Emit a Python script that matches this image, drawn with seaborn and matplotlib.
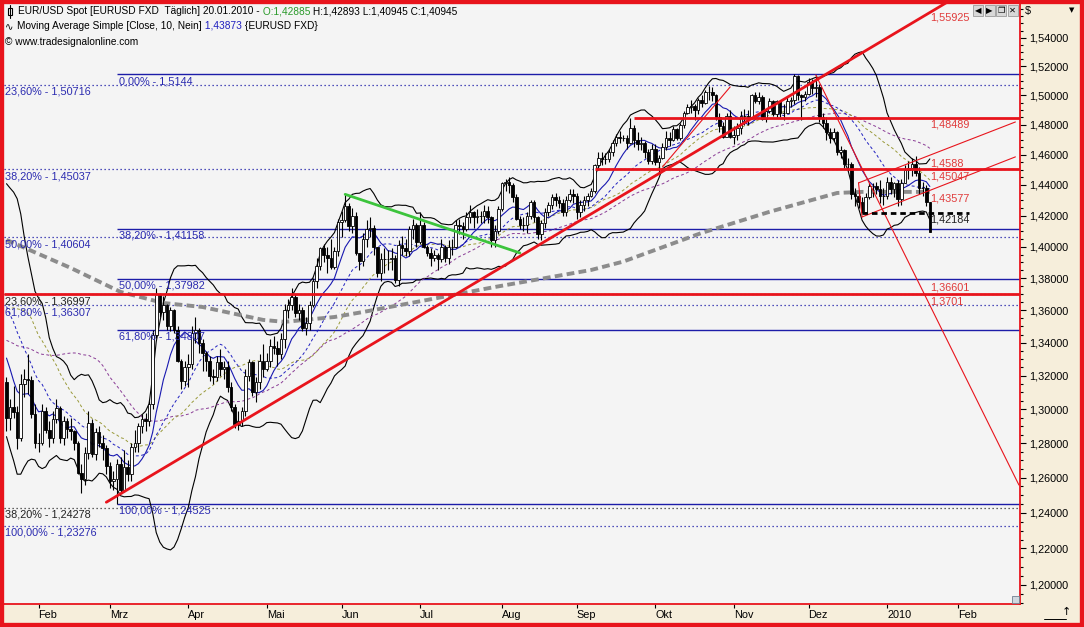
import numpy as np
import pandas as pd
import matplotlib
matplotlib.use("Agg")
import matplotlib.pyplot as plt
import seaborn as sns
from matplotlib.patches import Rectangle
from matplotlib.lines import Line2D
from matplotlib.ticker import FixedLocator, FuncFormatter, NullFormatter

# ---------------- data (EUR/USD daily) ----------------
warmup_close = [1.2960, 1.3050, 1.2990, 1.2950, 1.2690,
                1.2690, 1.2720, 1.2740, 1.2770, 1.2720,
                1.2960, 1.2900, 1.2990, 1.3320, 1.3340,
                1.3640, 1.4000, 1.4390, 1.4370, 1.3930,
                1.4015, 1.3935, 1.4040, 1.4140,
                1.4260, 1.4080, 1.3970, 1.3920,
                1.3595, 1.3440, 1.3670, 1.3710, 1.3440,
                1.3350, 1.3150, 1.3150, 1.3200, 1.3290, 1.3160]
first_open = 1.3160

close_jan09 = [1.2945, 1.3010, 1.2985, 1.2830, 1.3150, 1.3180, 1.3175, 1.2970, 1.2800]
high_jan09 = [1.3190, 1.3060, 1.3140, 1.3020, 1.3210, 1.3240, 1.3330, 1.3200, 1.3030]
low_jan09 = [1.2870, 1.2880, 1.2950, 1.2765, 1.2810, 1.3070, 1.3090, 1.2945, 1.2770]

close_feb09 = [1.2800, 1.2990, 1.2880, 1.2830, 1.2940, 1.3005, 1.2830, 1.2930, 1.2885, 1.2870,
               1.2800, 1.2630, 1.2590, 1.2740, 1.2920, 1.2735, 1.2865, 1.2800, 1.2770, 1.2670]
high_feb09 = [1.2860, 1.3030, 1.3010, 1.2930, 1.2990, 1.3060, 1.3020, 1.2960, 1.2950, 1.2950,
              1.2880, 1.2810, 1.2680, 1.2780, 1.2990, 1.2940, 1.2890, 1.2900, 1.2850, 1.2790]
low_feb09 = [1.2750, 1.2790, 1.2860, 1.2780, 1.2800, 1.2920, 1.2800, 1.2790, 1.2830, 1.2820,
             1.2760, 1.2620, 1.2510, 1.2560, 1.2710, 1.2720, 1.2700, 1.2780, 1.2700, 1.2620]

close_mar09 = [1.2580, 1.2590, 1.2680, 1.2530, 1.2660, 1.2620, 1.2780, 1.2800, 1.2900, 1.2940,
               1.2930, 1.3030, 1.3450, 1.3700, 1.3590, 1.3630, 1.3500, 1.3600, 1.3480, 1.3290,
               1.3170, 1.3250]
high_mar09 = [1.2690, 1.2640, 1.2710, 1.2720, 1.2760, 1.2700, 1.2800, 1.2880, 1.2920, 1.2970,
              1.2980, 1.3050, 1.3480, 1.3740, 1.3710, 1.3690, 1.3640, 1.3620, 1.3610, 1.3500,
              1.3300, 1.3290]
low_mar09 = [1.2540, 1.2530, 1.24525, 1.2510, 1.2520, 1.2580, 1.2580, 1.2750, 1.2750, 1.2860,
             1.2870, 1.2900, 1.3000, 1.3430, 1.3560, 1.3540, 1.3480, 1.3470, 1.3460, 1.3280,
             1.3120, 1.3140]

close_apr09 = [1.3270, 1.3460, 1.3480, 1.3400, 1.3340, 1.3290, 1.3200, 1.3190, 1.3280, 1.3240,
               1.3250, 1.3130, 1.3010, 1.2910, 1.2930, 1.2990, 1.3200, 1.3280, 1.3100, 1.3160,
               1.3290, 1.3240]
high_apr09 = [1.3330, 1.3500, 1.3560, 1.3490, 1.3420, 1.3350, 1.3320, 1.3240, 1.3320, 1.3360,
              1.3290, 1.3290, 1.3160, 1.3030, 1.2990, 1.3010, 1.3240, 1.3300, 1.3290, 1.3190,
              1.3330, 1.3390]
low_apr09 = [1.3130, 1.3240, 1.3400, 1.3340, 1.3230, 1.3230, 1.3170, 1.3150, 1.3170, 1.3200,
             1.3180, 1.3100, 1.2990, 1.2890, 1.2880, 1.2900, 1.2960, 1.3170, 1.3080, 1.3040,
             1.3120, 1.3190]

close_may09 = [1.3290, 1.3380, 1.3370, 1.3330, 1.3420, 1.3600, 1.3630, 1.3680, 1.3580, 1.3600,
               1.3490, 1.3520, 1.3630, 1.3780, 1.3880, 1.3990, 1.3950, 1.3930, 1.3870, 1.3970,
               1.4160]
high_may09 = [1.3340, 1.3420, 1.3440, 1.3410, 1.3460, 1.3640, 1.3670, 1.3740, 1.3700, 1.3640,
              1.3620, 1.3560, 1.3660, 1.3800, 1.3930, 1.4000, 1.4020, 1.4000, 1.4050, 1.4000,
              1.4180]
low_may09 = [1.3230, 1.3250, 1.3330, 1.3260, 1.3300, 1.3370, 1.3550, 1.3600, 1.3560, 1.3540,
             1.3470, 1.3450, 1.3480, 1.3620, 1.3740, 1.3850, 1.3900, 1.3830, 1.3860, 1.3860,
             1.3940]

close_jun09 = [1.4170, 1.4260, 1.4130, 1.4200, 1.3960, 1.3910, 1.4050, 1.4110, 1.4120, 1.4000,
               1.3830, 1.3920, 1.3920, 1.3920, 1.3930, 1.3790, 1.4010, 1.3990, 1.3970, 1.4110,
               1.4140, 1.4030]
high_jun09 = [1.4230, 1.4338, 1.4280, 1.4250, 1.4220, 1.3960, 1.4090, 1.4170, 1.4190, 1.4140,
              1.3990, 1.3960, 1.3990, 1.3980, 1.3990, 1.3950, 1.4040, 1.4070, 1.4050, 1.4130,
              1.4180, 1.4150]
low_jun09 = [1.4060, 1.4160, 1.4100, 1.4090, 1.3950, 1.3850, 1.3880, 1.4000, 1.4060, 1.3950,
             1.3810, 1.3780, 1.3830, 1.3850, 1.3850, 1.3770, 1.3750, 1.3950, 1.3940, 1.3940,
             1.4050, 1.4000]

close_jul09 = [1.4140, 1.4000, 1.3960, 1.3930, 1.3950, 1.3920, 1.4000, 1.3930, 1.4000, 1.4000,
               1.4140, 1.4130, 1.4110, 1.4190, 1.4220, 1.4190, 1.4200, 1.4200, 1.4230, 1.4190,
               1.4040, 1.4100, 1.4240]
high_jul09 = [1.4220, 1.4160, 1.4010, 1.3990, 1.3980, 1.3960, 1.4050, 1.4010, 1.4040, 1.4050,
              1.4170, 1.4180, 1.4160, 1.4220, 1.4270, 1.4230, 1.4240, 1.4230, 1.4270, 1.4260,
              1.4200, 1.4140, 1.4260]
low_jul09 = [1.4020, 1.3990, 1.3940, 1.3880, 1.3910, 1.3850, 1.3900, 1.3900, 1.3890, 1.3950,
             1.3990, 1.4080, 1.4050, 1.4100, 1.4150, 1.4120, 1.4150, 1.4150, 1.4150, 1.4150,
             1.4000, 1.4000, 1.4080]

close_aug09 = [1.4410, 1.4420, 1.4400, 1.4320, 1.4180, 1.4140, 1.4140, 1.4200, 1.4290, 1.4190,
               1.4080, 1.4150, 1.4220, 1.4270, 1.4320, 1.4300, 1.4280, 1.4220, 1.4300, 1.4340,
               1.4330]
high_aug09 = [1.4420, 1.4440, 1.4450, 1.4410, 1.4340, 1.4200, 1.4190, 1.4220, 1.4300, 1.4300,
              1.4200, 1.4170, 1.4250, 1.4290, 1.4340, 1.4350, 1.4330, 1.4310, 1.4330, 1.4370,
              1.4370]
low_aug09 = [1.4230, 1.4360, 1.4350, 1.4290, 1.4170, 1.4110, 1.4100, 1.4090, 1.4180, 1.4160,
             1.4050, 1.4040, 1.4120, 1.4200, 1.4240, 1.4260, 1.4250, 1.4200, 1.4200, 1.4290,
             1.4280]

close_sep09 = [1.4220, 1.4270, 1.4300, 1.4330, 1.4360, 1.4530, 1.4580, 1.4570, 1.4570, 1.4620,
               1.4680, 1.4720, 1.4710, 1.4710, 1.4680, 1.4780, 1.4700, 1.4670, 1.4680, 1.4620,
               1.4560, 1.4640]
high_sep09 = [1.4350, 1.4300, 1.4330, 1.4350, 1.4380, 1.4540, 1.4620, 1.4620, 1.4610, 1.4640,
              1.4700, 1.4740, 1.4760, 1.4730, 1.4730, 1.4843, 1.4800, 1.4750, 1.4720, 1.4690,
              1.4640, 1.4670]
low_sep09 = [1.4180, 1.4190, 1.4230, 1.4260, 1.4320, 1.4350, 1.4500, 1.4530, 1.4540, 1.4550,
             1.4590, 1.4660, 1.4680, 1.4690, 1.4640, 1.4670, 1.4650, 1.4630, 1.4630, 1.4580,
             1.4540, 1.4540]

close_oct09 = [1.4550, 1.4580, 1.4650, 1.4710, 1.4700, 1.4770, 1.4710, 1.4800, 1.4880, 1.4920,
               1.4930, 1.4900, 1.4970, 1.4950, 1.5020, 1.5020, 1.5000, 1.4850, 1.4790, 1.4720,
               1.4860, 1.4720]
high_oct09 = [1.4670, 1.4600, 1.4680, 1.4760, 1.4750, 1.4790, 1.4780, 1.4810, 1.4890, 1.4940,
              1.4970, 1.4940, 1.4980, 1.5000, 1.5040, 1.5061, 1.5060, 1.5010, 1.4880, 1.4820,
              1.4880, 1.4900]
low_oct09 = [1.4530, 1.4480, 1.4570, 1.4630, 1.4660, 1.4690, 1.4700, 1.4700, 1.4780, 1.4870,
             1.4880, 1.4830, 1.4870, 1.4920, 1.4940, 1.4970, 1.4960, 1.4830, 1.4750, 1.4710,
             1.4720, 1.4710]

close_nov09 = [1.4730, 1.4780, 1.4860, 1.4860, 1.4850, 1.5000, 1.4960, 1.4990, 1.4840, 1.4890,
               1.4960, 1.4870, 1.4960, 1.4880, 1.4880, 1.4960, 1.4970, 1.5130, 1.5000, 1.4990,
               1.5010]
high_nov09 = [1.4790, 1.4810, 1.4890, 1.4910, 1.4900, 1.5010, 1.5020, 1.5020, 1.5000, 1.4910,
              1.4980, 1.4970, 1.4970, 1.4960, 1.4940, 1.4990, 1.4990, 1.5144, 1.5140, 1.5010,
              1.5030]
low_nov09 = [1.4670, 1.4700, 1.4740, 1.4800, 1.4800, 1.4840, 1.4950, 1.4940, 1.4830, 1.4820,
             1.4880, 1.4860, 1.4850, 1.4850, 1.4830, 1.4880, 1.4920, 1.4940, 1.4970, 1.4830,
             1.4960]

close_dec09 = [1.5090, 1.5050, 1.5060, 1.4850, 1.4810, 1.4750, 1.4710, 1.4750, 1.4620, 1.4630,
               1.4540, 1.4540, 1.4340, 1.4330, 1.4290, 1.4220, 1.4320, 1.4390, 1.4390, 1.4370,
               1.4330, 1.4330]
high_dec09 = [1.5120, 1.5110, 1.5140, 1.5080, 1.4880, 1.4850, 1.4780, 1.4780, 1.4760, 1.4660,
              1.4640, 1.4580, 1.4550, 1.4380, 1.4350, 1.4320, 1.4350, 1.4410, 1.4410, 1.4420,
              1.4430, 1.4380]
low_dec09 = [1.5000, 1.5010, 1.4990, 1.4820, 1.4780, 1.4700, 1.4680, 1.4690, 1.4600, 1.4580,
             1.4510, 1.4490, 1.4310, 1.4260, 1.4250, 1.42184, 1.4220, 1.4310, 1.4320, 1.4340,
             1.4280, 1.4270]

close_jan10 = [1.4420, 1.4370, 1.4410, 1.4310, 1.4410, 1.4500, 1.4510, 1.4540, 1.4480, 1.4380,
               1.4380, 1.42885, 1.40945]
high_jan10 = [1.4450, 1.4450, 1.4420, 1.4430, 1.4440, 1.4530, 1.4560, 1.4580, 1.4588, 1.4520,
              1.4420, 1.4400, 1.42893]
low_jan10 = [1.4310, 1.4340, 1.4320, 1.4260, 1.4270, 1.4420, 1.4440, 1.4460, 1.4460, 1.4340,
             1.4330, 1.4260, 1.40945]

# 200-day moving average
ma200_dates = ['2009-01-20', '2009-02-13', '2009-03-05', '2009-03-23', '2009-04-07',
               '2009-04-30', '2009-05-08', '2009-05-28', '2009-06-09', '2009-07-03',
               '2009-07-30', '2009-09-07', '2009-09-18', '2009-10-20', '2009-11-16',
               '2009-12-11', '2009-12-22', '2010-01-20']
ma200_vals = [1.4043, 1.3865, 1.3714, 1.3645, 1.3620, 1.3540, 1.3528, 1.3558, 1.3589, 1.3664,
              1.3745, 1.3852, 1.3905, 1.4088, 1.4224, 1.4347, 1.4354, 1.4354]

# Fibonacci sets
fibA_levels = [1.50716, 1.45037, 1.40604, 1.36307, 1.23276]
fibA_labels = ['23,60% - 1,50716', '38,20% - 1,45037', '50,00% - 1,40604',
               '61,80% - 1,36307', '100,00% - 1,23276']
fibK_levels = [1.36997, 1.24278]
fibK_labels = ['23,60% - 1,36997', '38,20% - 1,24278']
fibB_start = '2009-03-04'
fibB_levels = [1.5144, 1.41158, 1.37982, 1.34807, 1.24525]
fibB_labels = ['0,00% - 1,5144', '38,20% - 1,41158', '50,00% - 1,37982',
               '61,80% - 1,34807', '100,00% - 1,24525']

# horizontal red lines (start date, level)
red_h_starts = ['2009-09-23', '2009-09-08', None]
red_h_levels = [1.48489, 1.45047, 1.3701]

# trend lines: (date0, price0, date1, price1)
trend_main = ('2009-02-27', 1.2460, '2010-01-21', 1.55925)
trend_fall = ('2009-12-03', 1.5140, '2010-02-24', 1.2558)
trend_octo = ('2009-10-05', 1.4518, '2009-10-30', 1.5058)
chan_upper = ('2009-12-21', 1.4413, '2010-02-23', 1.4819)
chan_lower = ('2009-12-22', 1.4191, '2010-02-23', 1.4585)
trend_green = ('2009-06-02', 1.4338, '2009-08-10', 1.3960)
support_level = 1.42184
support_dates = ('2009-12-22', '2010-02-04')

# right-side value labels
red_labels = ['1,55925', '1,48489', '1,4588', '1,45047', '1,43577', '1,3701']
red_label_prices = [1.55925, 1.48489, 1.4588, 1.45047, 1.43577, 1.3701]

month_labels = ['Feb', 'Mrz', 'Apr', 'Mai', 'Jun', 'Jul', 'Aug', 'Sep', 'Okt', 'Nov', 'Dez', '2010', 'Feb']
month_starts = ['2009-02-02', '2009-03-02', '2009-04-01', '2009-05-01', '2009-06-01', '2009-07-01',
                '2009-08-03', '2009-09-01', '2009-10-01', '2009-11-02', '2009-12-01', '2010-01-04',
                '2010-02-01']

# ---------------- assemble ----------------
close = np.array(close_jan09 + close_feb09 + close_mar09 + close_apr09 + close_may09 + close_jun09 +
                 close_jul09 + close_aug09 + close_sep09 + close_oct09 + close_nov09 + close_dec09 +
                 close_jan10)
high = np.array(high_jan09 + high_feb09 + high_mar09 + high_apr09 + high_may09 + high_jun09 +
                high_jul09 + high_aug09 + high_sep09 + high_oct09 + high_nov09 + high_dec09 + high_jan10)
low = np.array(low_jan09 + low_feb09 + low_mar09 + low_apr09 + low_may09 + low_jun09 +
               low_jul09 + low_aug09 + low_sep09 + low_oct09 + low_nov09 + low_dec09 + low_jan10)
opn = np.concatenate([[first_open], close[:-1]])
high = np.maximum(high, np.maximum(opn, close))
low = np.minimum(low, np.minimum(opn, close))
n = len(close)

holidays = pd.to_datetime(['2009-12-25', '2010-01-01'])
all_days = pd.bdate_range('2009-01-20', '2010-03-05')
all_days = all_days[~all_days.isin(holidays)]
pos = {d: i for i, d in enumerate(all_days)}


def xi(d):
    return pos[pd.Timestamp(d)]


x = np.arange(n)
full = pd.Series(list(warmup_close) + list(close))
nw = len(warmup_close)


def sma(p):
    return full.rolling(p, min_periods=1).mean().values[nw:]


ma10, ma20, ma30, ma50 = sma(10), sma(20), sma(30), sma(50)
sd20 = full.rolling(20, min_periods=2).std(ddof=0).values[nw:]
bb_up = ma20 + 2 * sd20
bb_lo = ma20 - 2 * sd20

# ---------------- figure ----------------
sns.set_theme(style="white")
plt.rcParams['font.family'] = ['Liberation Sans', 'DejaVu Sans']
plt.rcParams['axes.linewidth'] = 1.0

W, H = 1084, 627
BEIGE = '#f6eedb'
fig = plt.figure(figsize=(W / 100, H / 100), dpi=100, facecolor=BEIGE)
L, R, T, B = 4, 1020, 4, 604
ax = fig.add_axes([L / W, 1 - B / H, (R - L) / W, (B - T) / H])
ax.set_facecolor('#f4f4f4')
ax.set_yscale('log')
ax.set_ylim(1.1895, 1.5638)
xmin = -0.7
xmax = xmin + (R - L) / 3.565
ax.set_xlim(xmin, xmax)

BLUE = '#1c1ca8'
BLUET = '#2a2ab0'
RED = '#e8141c'
REDT = '#e03a3a'
FS = 7.8
FSH = 7.3

# Fibonacci A (blue dotted, full width)
for lv, lb in zip(fibA_levels, fibA_labels):
    ax.axhline(lv, color=BLUE, lw=0.9, ls=(0, (1, 2.2)), zorder=1)
    ax.annotate(lb, xy=(0, lv), xycoords=('axes fraction', 'data'), xytext=(0.7, -1.5),
                textcoords='offset points', va='top', ha='left', color=BLUET, fontsize=FS, zorder=7)
# Fibonacci (black dotted)
for lv, lb in zip(fibK_levels, fibK_labels):
    ax.axhline(lv, color='#333333', lw=0.9, ls=(0, (1, 2.2)), zorder=1)
    ax.annotate(lb, xy=(0, lv), xycoords=('axes fraction', 'data'), xytext=(0.7, -1.5),
                textcoords='offset points', va='top', ha='left', color='#222222', fontsize=FS, zorder=7)
# Fibonacci B (blue solid from March low)
xb0 = xi(fibB_start)
for lv, lb in zip(fibB_levels, fibB_labels):
    ax.hlines(lv, xb0, xmax, color=BLUE, lw=1.0, zorder=1)
    ax.annotate(lb, xy=(xb0, lv), xytext=(1.5, -1.5), textcoords='offset points',
                va='top', ha='left', color=BLUET, fontsize=FS, zorder=7)

# Bollinger bands
sns.lineplot(x=x, y=bb_up, ax=ax, color='black', lw=0.8, legend=False, zorder=2)
sns.lineplot(x=x, y=bb_lo, ax=ax, color='black', lw=0.8, legend=False, zorder=2)

# moving averages
sns.lineplot(x=x, y=ma50, ax=ax, color='#8a3c96', lw=0.7, legend=False, zorder=3)
ax.lines[-1].set_linestyle((0, (3, 2.5)))
sns.lineplot(x=x, y=ma30, ax=ax, color='#9a9a3a', lw=0.7, legend=False, zorder=3)
ax.lines[-1].set_linestyle((0, (3, 2.5)))
sns.lineplot(x=x, y=ma20, ax=ax, color='#2020c0', lw=0.7, legend=False, zorder=3)
ax.lines[-1].set_linestyle((0, (3, 2.5)))
sns.lineplot(x=x, y=ma10, ax=ax, color='#1818b0', lw=0.8, legend=False, zorder=3)
sns.lineplot(x=[xi(d) for d in ma200_dates], y=ma200_vals, ax=ax, color='#8c8c8c', lw=2.8,
             legend=False, zorder=3)
ax.lines[-1].set_linestyle((0, (2, 1.1)))

# candles
up = close >= opn
ax.vlines(x, low, high, color='black', lw=0.8, zorder=4)
ax.bar(x[up], np.maximum(close - opn, 1e-5)[up], bottom=opn[up], width=0.72, color='white',
       edgecolor='black', linewidth=0.6, zorder=5)
ax.bar(x[~up], (opn - close)[~up], bottom=close[~up], width=0.72, color='black',
       edgecolor='black', linewidth=0.6, zorder=5)


def trend(spec, xa=None, xb=None, **kw):
    d0, p0, d1, p1 = spec
    x0, x1 = xi(d0), xi(d1)
    k = (np.log(p1) - np.log(p0)) / (x1 - x0)
    xa = x0 if xa is None else xa
    xb = x1 if xb is None else xb
    xs = np.array([xa, xb], dtype=float)
    ys = np.exp(np.log(p0) + k * (xs - x0))
    ax.plot(xs, ys, **kw)


# red horizontals
for st, lv in zip(red_h_starts, red_h_levels):
    xa = xmin if st is None else xi(st)
    ax.hlines(lv, xa, xmax, color=RED, lw=2.0, zorder=6)

trend(trend_main, xb=xmax, color=RED, lw=2.0, zorder=6)
trend(trend_fall, color=RED, lw=0.8, zorder=6)
trend(trend_octo, color=RED, lw=0.8, zorder=6)
trend(chan_upper, color=RED, lw=0.8, zorder=6)
trend(chan_lower, color=RED, lw=0.8, zorder=6)
ax.plot([xi(chan_upper[0]), xi(chan_lower[0])], [chan_upper[1], chan_lower[1]], color=RED, lw=0.8, zorder=6)
trend(trend_green, color='#3cc43c', lw=2.0, zorder=6)
ax.hlines(support_level, xi(support_dates[0]), xi(support_dates[1]), color='black', lw=2.0,
          linestyles=[(0, (2, 1.4))], zorder=6)

# right side labels
xl = xi('2010-01-20')
for lb, pr in zip(red_labels, red_label_prices):
    ax.annotate(lb, xy=(xl, pr), xytext=(0, -1.6), textcoords='offset points', va='top', ha='left',
                color=REDT, fontsize=FS, zorder=7)
ax.annotate('1,36601', xy=(xl, 1.3701), xytext=(0, 1.2), textcoords='offset points', va='bottom',
            ha='left', color=REDT, fontsize=FS, zorder=7)
ax.annotate('1,42184', xy=(xl, support_level), xytext=(0, -1.2), textcoords='offset points',
            va='top', ha='left', color='#222222', fontsize=FS, zorder=7)

# axes styling
ax.yaxis.tick_right()
ax.yaxis.set_major_locator(FixedLocator(np.round(np.arange(1.20, 1.5401, 0.02), 2)))
ax.yaxis.set_minor_locator(FixedLocator(np.round(np.arange(1.19, 1.5601, 0.005), 3)))
ax.yaxis.set_major_formatter(FuncFormatter(lambda v, p: f"{v:.5f}".replace('.', ',')))
ax.yaxis.set_minor_formatter(NullFormatter())
ax.tick_params(axis='y', which='major', direction='out', length=4, width=0.8, color='black',
               pad=2.5, labelsize=FS, labelcolor='black', right=True, left=False)
ax.tick_params(axis='y', which='minor', direction='out', length=2, width=0.8, color='black',
               right=True, left=False)
ax.set_xticks([xi(d) for d in month_starts])
ax.set_xticklabels(month_labels)
ax.tick_params(axis='x', which='major', direction='out', length=3, width=0.8, color='black',
               pad=1, labelsize=FS, labelcolor='black', bottom=True)
for lab in ax.get_xticklabels():
    lab.set_ha('left')
ax.set_xlabel('')
ax.set_ylabel('')
ax.grid(False)
for s in ['left', 'top']:
    ax.spines[s].set_visible(False)
for s in ['right', 'bottom']:
    ax.spines[s].set_color(RED)
    ax.spines[s].set_linewidth(1.3)

# ---------------- header texts ----------------
renderer = fig.canvas.get_renderer()


def seq_text(x_px, y_px, parts):
    xx = x_px
    for s, col in parts:
        t = fig.text(xx / W, 1 - y_px / H, s, color=col, fontsize=FSH, va='center', ha='left', zorder=20)
        bb = t.get_window_extent(renderer=renderer)
        xx += bb.width


# candle icon
fig.add_artist(Line2D([9.5 / W, 9.5 / W], [1 - 4.5 / H, 1 - 17.5 / H], color='black', lw=0.8))
fig.add_artist(Rectangle((7.5 / W, 1 - 14.5 / H), 4 / W, 7 / H, facecolor='white', edgecolor='black', lw=0.8))
seq_text(18, 11, [('EUR/USD Spot [EURUSD FXD  Täglich] 20.01.2010 -', 'black'),
                  (' O:1,42885', '#2a9a2a'),
                  (' H:1,42893 L:1,40945 C:1,40945', 'black')])
fig.text(5 / W, 1 - 27 / H, '∿', fontsize=FSH, va='center', ha='left', color='black',
         family=['DejaVu Sans'])
seq_text(17, 26, [('Moving Average Simple [Close, 10, Nein]', 'black'),
                  (' 1,43873', '#2020c0'),
                  (' {EURUSD FXD}', 'black')])
fig.text(5 / W, 1 - 42 / H, '© www.tradesignalonline.com', fontsize=FSH, va='center', ha='left', color='black')

# small window buttons
for i, g in enumerate(['◀', '▶', '❐', '✕']):
    x0 = 973 + i * 11.5
    fig.add_artist(Rectangle((x0 / W, 1 - 16 / H), 10 / W, 11 / H, facecolor='#d8d8d8',
                             edgecolor='#9a9a9a', lw=0.6, zorder=20))
    fig.text((x0 + 5) / W, 1 - 10.5 / H, g, fontsize=6, ha='center', va='center', color='black',
             family=['DejaVu Sans'], zorder=21)

fig.text(1025 / W, 1 - 11 / H, '$', fontsize=FS, ha='left', va='center', color='black')
fig.text(1072 / W, 1 - 10 / H, '▼', fontsize=5, ha='center', va='center', color='black',
         family=['DejaVu Sans'])
fig.add_artist(Rectangle((1012 / W, 1 - 603 / H), 7 / W, 7 / H, facecolor='#d0d8e0',
                         edgecolor='#708090', lw=0.6, zorder=20))
fig.text(1066 / W, 1 - 612 / H, '↑', fontsize=8, ha='center', va='center', color='black',
         family=['DejaVu Sans'])
fig.add_artist(Line2D([1044 / W, 1066 / W], [1 - 619 / H, 1 - 619 / H], color='black', lw=0.7))

# window frame
fig.add_artist(Rectangle((0, 0), 1, 1, transform=fig.transFigure, fill=False, edgecolor=RED,
                         lw=6, zorder=100))

fig.savefig('out.png', dpi=100, facecolor=BEIGE)
